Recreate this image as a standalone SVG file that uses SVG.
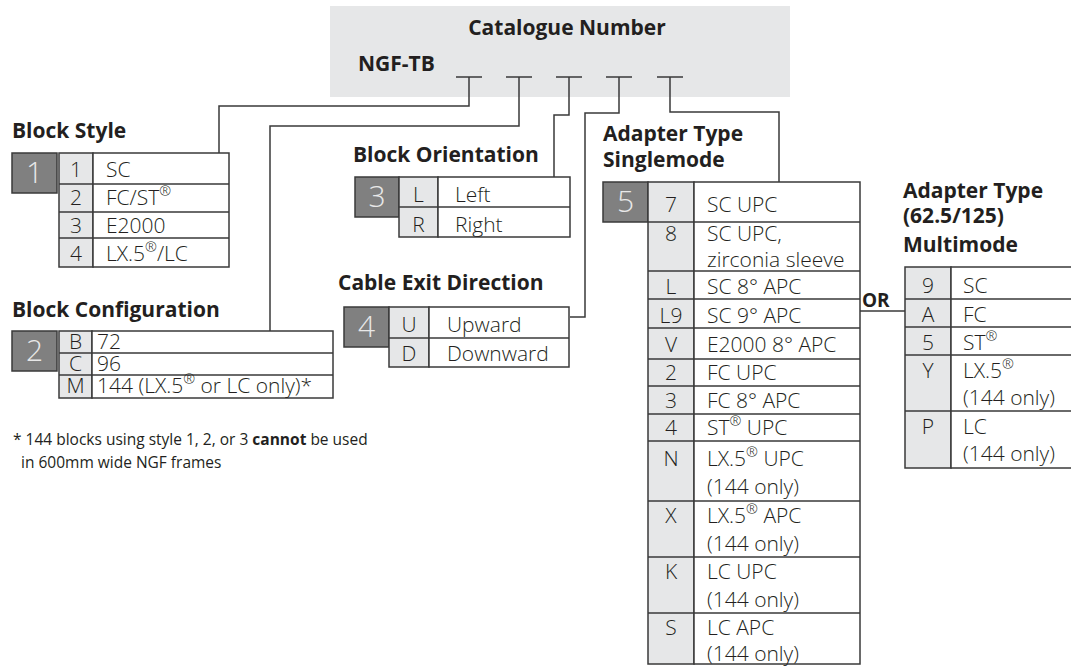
<svg xmlns="http://www.w3.org/2000/svg" width="1071" height="671" viewBox="0 0 1071 671">
  <style>
    text { font-family: "Open Sans", "Liberation Sans", sans-serif; fill: #231f20; }
    .hd { font-size: 21px; font-weight: 700; }
    .tx { font-size: 21px; font-weight: 300; }
    .cd { font-size: 21px; font-weight: 300; text-anchor: middle; }
    .num { font-size: 30px; font-weight: 300; text-anchor: middle; fill: #e8e8e8; }
    .fn { font-size: 15.5px; font-weight: 400; }
    .sup { font-size: 68%; baseline-shift: super; }
    .nbox { fill: #808080; stroke: #3a3a3a; stroke-width: 1.5; }
    .ccol { fill: #e6e7e8; stroke: #3a3a3a; stroke-width: 1.5; }
    .dcol { fill: #ffffff; stroke: #3a3a3a; stroke-width: 1.5; }
    .rule { stroke: #3a3a3a; stroke-width: 1.5; fill: none; }
    .wire { stroke: #3a3a3a; stroke-width: 1.5; fill: none; }
  </style>

  <!-- catalogue number header -->
  <g id="catalogue-number">
    <rect x="330" y="6" width="460" height="91" fill="#e6e7e8"/>
    <text class="hd" x="567" y="35" text-anchor="middle">Catalogue Number</text>
    <text class="hd" x="358" y="71">NGF-TB</text>
    <path class="rule" d="M456,77 H482 M506,77 H532 M556,77 H582 M606,77 H632 M657,77 H683"/>
  </g>

  <!-- wiring from each code position to its option table -->
  <g id="connectors">
    <path class="wire" d="M469,77 V106 H219 V153"/>
    <path class="wire" d="M519,77 V126 H270 V331"/>
    <path class="wire" d="M569,77 V115 H554 V177"/>
    <path class="wire" d="M619,77 V113 H585 V317 H570"/>
    <path class="wire" d="M670,77 V112 H779 V182"/>
    <path class="wire" d="M860,311 H905"/>
  </g>

  <!-- 1: block style -->
  <g id="block-style">
    <text class="hd" x="12" y="138">Block Style</text>
    <rect class="nbox" x="12" y="153" width="45" height="40"/>
    <text class="num" x="34.5" y="183">1</text>
    <rect class="ccol" x="59" y="153" width="34" height="114"/>
    <rect class="dcol" x="93" y="153" width="136" height="114"/>
    <path class="rule" d="M59,184 H229 M59,212 H229 M59,238 H229"/>
    <text class="cd" x="76" y="177">1</text>
    <text class="cd" x="76" y="205">2</text>
    <text class="cd" x="76" y="233">3</text>
    <text class="cd" x="76" y="261">4</text>
    <text class="tx" x="106" y="177">SC</text>
    <text class="tx" x="106" y="205">FC/ST<tspan class="sup">®</tspan></text>
    <text class="tx" x="106" y="233">E2000</text>
    <text class="tx" x="106" y="261">LX.5<tspan class="sup">®</tspan>/LC</text>
  </g>

  <!-- 2: block configuration -->
  <g id="block-configuration">
    <text class="hd" x="12" y="317">Block Configuration</text>
    <rect class="nbox" x="12" y="331" width="45" height="40"/>
    <text class="num" x="34.5" y="361">2</text>
    <rect class="ccol" x="59" y="331" width="33" height="67"/>
    <rect class="dcol" x="92" y="331" width="241" height="67"/>
    <path class="rule" d="M59,353 H333 M59,375 H333"/>
    <text class="cd" x="75.5" y="349">B</text>
    <text class="cd" x="75.5" y="371">C</text>
    <text class="cd" x="75.5" y="393">M</text>
    <text class="tx" x="97" y="349">72</text>
    <text class="tx" x="97" y="371">96</text>
    <text class="tx" x="97" y="393">144 (LX.5<tspan class="sup">®</tspan> or LC only)*</text>
  </g>

  <!-- footnote -->
  <g id="footnote">
    <text class="fn" x="13" y="445">* 144 blocks using style 1, 2, or 3 <tspan font-weight="700">cannot</tspan> be used</text>
    <text class="fn" x="21" y="468">in 600mm wide NGF frames</text>
  </g>

  <!-- 3: block orientation -->
  <g id="block-orientation">
    <text class="hd" x="353" y="162">Block Orientation</text>
    <rect class="nbox" x="355" y="177" width="44" height="40"/>
    <text class="num" x="377" y="207">3</text>
    <rect class="ccol" x="399" y="177" width="39" height="60"/>
    <rect class="dcol" x="438" y="177" width="132" height="60"/>
    <path class="rule" d="M399,207 H570"/>
    <text class="cd" x="418.5" y="202">L</text>
    <text class="cd" x="418.5" y="232">R</text>
    <text class="tx" x="455" y="202">Left</text>
    <text class="tx" x="455" y="232">Right</text>
  </g>

  <!-- 4: cable exit direction -->
  <g id="cable-exit-direction">
    <text class="hd" x="338" y="290">Cable Exit Direction</text>
    <rect class="nbox" x="344" y="307" width="45" height="40"/>
    <text class="num" x="366.5" y="337">4</text>
    <rect class="ccol" x="389" y="307" width="40" height="60"/>
    <rect class="dcol" x="429" y="307" width="140" height="60"/>
    <path class="rule" d="M389,338 H569"/>
    <text class="cd" x="409" y="332">U</text>
    <text class="cd" x="409" y="361">D</text>
    <text class="tx" x="447" y="332">Upward</text>
    <text class="tx" x="447" y="361">Downward</text>
  </g>

  <!-- 5: adapter type, singlemode -->
  <g id="adapter-singlemode">
    <text class="hd" x="603" y="141">Adapter Type</text>
    <text class="hd" x="603" y="167">Singlemode</text>
    <rect class="nbox" x="603" y="182" width="45" height="40"/>
    <text class="num" x="625.5" y="212">5</text>
    <rect class="ccol" x="648" y="182" width="46" height="482"/>
    <rect class="dcol" x="694" y="182" width="166" height="482"/>
    <path class="rule" d="M648,222 H860 M648,271 H860 M648,299 H860 M648,328 H860 M648,359 H860 M648,386 H860 M648,414 H860 M648,441 H860 M648,501 H860 M648,557 H860 M648,613 H860"/>
    <text class="cd" x="671" y="212">7</text>
    <text class="cd" x="671" y="241">8</text>
    <text class="cd" x="671" y="294">L</text>
    <text class="cd" x="671" y="323">L9</text>
    <text class="cd" x="671" y="352">V</text>
    <text class="cd" x="671" y="380">2</text>
    <text class="cd" x="671" y="408">3</text>
    <text class="cd" x="671" y="435">4</text>
    <text class="cd" x="671" y="466">N</text>
    <text class="cd" x="671" y="523">X</text>
    <text class="cd" x="671" y="579">K</text>
    <text class="cd" x="671" y="635">S</text>
    <text class="tx" x="707" y="212">SC UPC</text>
    <text class="tx" x="707" y="241">SC UPC,</text>
    <text class="tx" x="707" y="267">zirconia sleeve</text>
    <text class="tx" x="707" y="294">SC 8° APC</text>
    <text class="tx" x="707" y="323">SC 9° APC</text>
    <text class="tx" x="707" y="352">E2000 8° APC</text>
    <text class="tx" x="707" y="380">FC UPC</text>
    <text class="tx" x="707" y="408">FC 8° APC</text>
    <text class="tx" x="707" y="435">ST<tspan class="sup">®</tspan> UPC</text>
    <text class="tx" x="707" y="466">LX.5<tspan class="sup">®</tspan> UPC</text>
    <text class="tx" x="707" y="494">(144 only)</text>
    <text class="tx" x="707" y="523">LX.5<tspan class="sup">®</tspan> APC</text>
    <text class="tx" x="707" y="551">(144 only)</text>
    <text class="tx" x="707" y="579">LC UPC</text>
    <text class="tx" x="707" y="607">(144 only)</text>
    <text class="tx" x="707" y="635">LC APC</text>
    <text class="tx" x="707" y="661">(144 only)</text>
  </g>

  <text class="hd" x="862" y="307" style="font-size:19px">OR</text>

  <!-- 5 (alt): adapter type, multimode -->
  <g id="adapter-multimode">
    <text class="hd" x="903" y="198">Adapter Type</text>
    <text class="hd" x="903" y="223">(62.5/125)</text>
    <text class="hd" x="903" y="252">Multimode</text>
    <rect class="ccol" x="905" y="267" width="46" height="201"/>
    <rect class="dcol" x="951" y="267" width="130" height="201"/>
    <path class="rule" d="M905,299 H1071 M905,327 H1071 M905,355 H1071 M905,411 H1071"/>
    <text class="cd" x="928" y="293">9</text>
    <text class="cd" x="928" y="322">A</text>
    <text class="cd" x="928" y="350">5</text>
    <text class="cd" x="928" y="378">Y</text>
    <text class="cd" x="928" y="434">P</text>
    <text class="tx" x="963" y="293">SC</text>
    <text class="tx" x="963" y="322">FC</text>
    <text class="tx" x="963" y="350">ST<tspan class="sup">®</tspan></text>
    <text class="tx" x="963" y="378">LX.5<tspan class="sup">®</tspan></text>
    <text class="tx" x="963" y="405">(144 only)</text>
    <text class="tx" x="963" y="434">LC</text>
    <text class="tx" x="963" y="461">(144 only)</text>
  </g>
</svg>
